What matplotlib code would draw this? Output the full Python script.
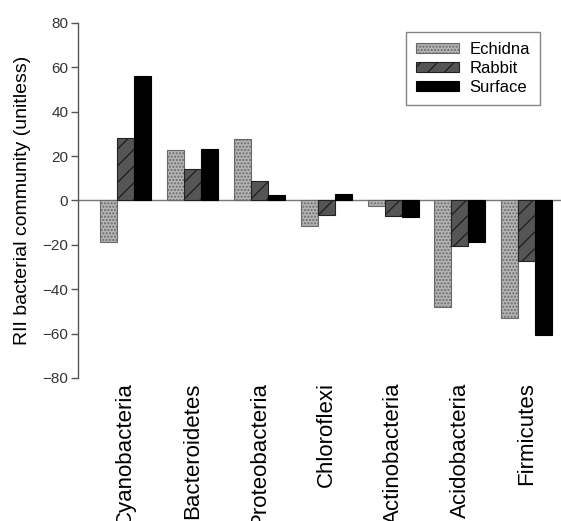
import numpy as np
import matplotlib
matplotlib.use("Agg")
import matplotlib.pyplot as plt

plt.rcParams['font.family'] = ['Liberation Sans', 'DejaVu Sans']
plt.rcParams['hatch.linewidth'] = 1.0

# data
phyla = ['Cyanobacteria', 'Bacteroidetes', 'Proteobacteria', 'Chloroflexi',
         'Actinobacteria', 'Acidobacteria', 'Firmicutes']
echidna = [-18.5, 22.7, 27.5, -11.3, -2.7, -48.2, -53.0]
rabbit = [28.0, 14.0, 8.6, -6.4, -7.2, -20.7, -27.2]
surface = [55.9, 23.3, 2.3, 2.9, -7.5, -18.7, -60.5]
yticks = [-80, -60, -40, -20, 0, 20, 40, 60, 80]

fig = plt.figure(figsize=(5.61, 5.21), dpi=100)
ax = fig.add_axes([0.139, 0.2745, 0.861, 0.6815])

x = np.arange(len(phyla))
w = 0.254

ax.bar(x - w, echidna, w, facecolor='#b4b4b4', edgecolor='#6a6a6a',
       hatch='.....', linewidth=0.8, label='Echidna', zorder=2)
ax.bar(x, rabbit, w, facecolor='#555555', edgecolor='#222222',
       hatch='//', linewidth=0.8, label='Rabbit', zorder=2)
ax.bar(x + w, surface, w, facecolor='black', edgecolor='black',
       linewidth=0.8, label='Surface', zorder=2)

ax.axhline(0, color='#777777', lw=1.0, zorder=1)

ax.set_xlim(-0.71, 6.51)
ax.set_ylim(-80, 80)
ax.set_yticks(yticks)
ax.set_yticklabels([str(t).replace('-', '\u2212') for t in yticks])
ax.set_xticks(x)
ax.set_xticklabels(phyla, rotation=90, va='top', ha='center', fontsize=16)
ax.tick_params(axis='x', length=0, pad=3)
ax.tick_params(axis='y', length=5, width=1, color='#555555', labelsize=11,
               pad=2, labelcolor='#333333')

for s in ['top', 'right', 'bottom']:
    ax.spines[s].set_visible(False)
ax.spines['left'].set_color('#555555')
ax.spines['left'].set_linewidth(1.0)

ax.set_ylabel('RII bacterial community (unitless)', fontsize=14, labelpad=8)

leg = ax.legend(loc='upper left', bbox_to_anchor=(0.679, 0.975), fontsize=12,
                frameon=True, fancybox=False, edgecolor='#666666',
                handlelength=2.6, handleheight=0.55, handletextpad=0.6,
                labelspacing=0.25, borderpad=0.6, borderaxespad=0)
leg.get_frame().set_linewidth(1.0)

fig.savefig('out.png', dpi=100)
